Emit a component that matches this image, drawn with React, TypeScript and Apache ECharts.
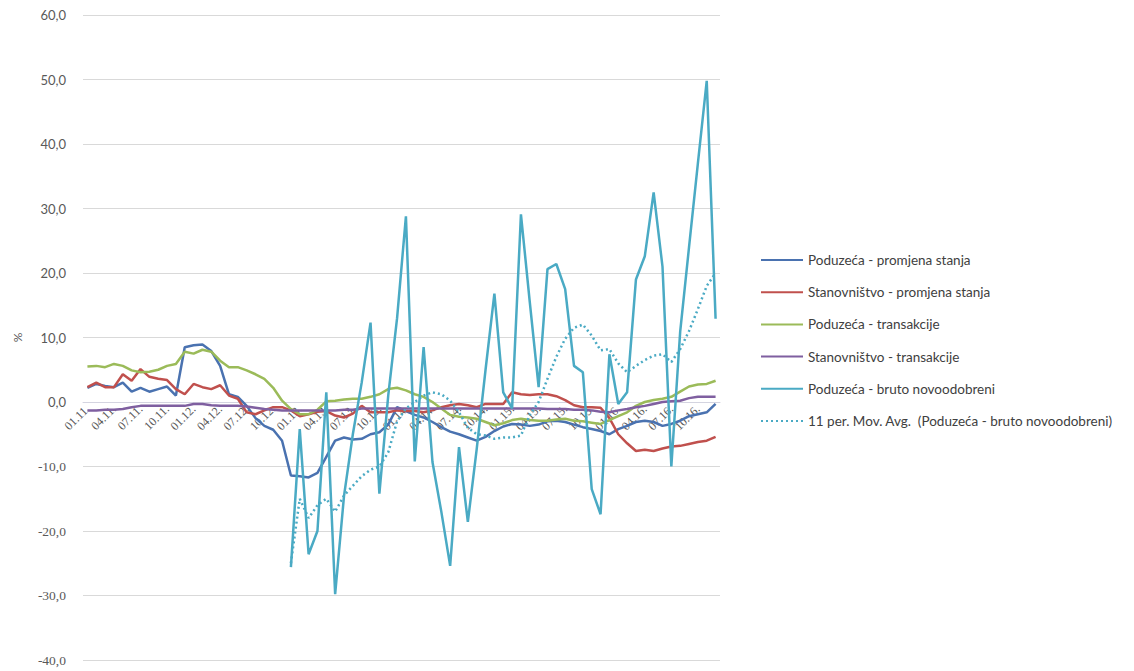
import React, { useEffect, useRef } from "react";
import * as echarts from "echarts";

const years = ["11", "12", "13", "14", "15", "16"];
const months = ["01", "02", "03", "04", "05", "06", "07", "08", "09", "10", "11", "12"];
const categories: string[] = [];
years.forEach((y) => months.forEach((m) => categories.push(`${m}.${y}.`)));

const seriesNames = [
  "Poduzeća - promjena stanja",
  "Stanovništvo - promjena stanja",
  "Poduzeća - transakcije",
  "Stanovništvo - transakcije",
  "Poduzeća - bruto novoodobreni",
  "11 per. Mov. Avg.  (Poduzeća - bruto novoodobreni)",
];

const poduzecaStanje = [
  2.2, 2.8, 2.5, 2.3, 3.0, 1.6, 2.2, 1.6, 2.0, 2.4, 1.0, 8.5,
  8.8, 8.9, 7.9, 5.6, 1.2, 0.8, -0.6, -2.5, -3.7, -4.3, -6.0, -11.4,
  -11.5, -11.7, -11.0, -8.5, -6.0, -5.5, -5.8, -5.7, -5.0, -4.7, -3.5, -0.8,
  -1.4, -2.0, -2.4, -3.1, -3.9, -4.6, -5.0, -5.5, -6.0, -5.4, -4.5, -3.8,
  -3.4, -3.5, -3.7, -3.5, -3.0, -2.9, -3.1, -3.5, -3.9, -4.2, -4.5, -5.0,
  -4.2, -3.7, -3.1, -2.9, -3.1, -3.7, -3.4, -2.9, -2.2, -1.9, -1.6, -0.3,
];

const stanovnistvoStanje = [
  2.3, 3.0, 2.3, 2.3, 4.3, 3.3, 5.1, 3.9, 3.6, 3.4, 2.0, 1.2,
  2.8, 2.3, 2.0, 2.6, 1.0, 0.5, -1.6, -1.9, -1.3, -0.8, -0.8, -1.3,
  -2.2, -1.9, -1.5, -1.4, -2.1, -2.4, -1.8, -0.6, -1.6, -1.6, -1.6, -1.3,
  -1.4, -1.4, -1.6, -1.3, -0.8, -0.5, -0.3, -0.5, -0.8, -0.3, -0.3, -0.3,
  1.5, 1.2, 1.1, 1.2, 1.2, 0.9, 0.3, -0.5, -0.8, -0.8, -0.9, -2.5,
  -5.0, -6.4, -7.6, -7.4, -7.6, -7.2, -6.9, -6.8, -6.5, -6.2, -6.0, -5.4,
];

const poduzecaTransakcije = [
  5.5, 5.6, 5.4, 5.9, 5.6, 4.9, 4.6, 4.7, 5.0, 5.6, 5.9, 7.8,
  7.5, 8.1, 7.8, 6.4, 5.4, 5.4, 4.9, 4.3, 3.6, 2.2, 0.2, -1.1,
  -1.9, -1.9, -1.2, 0.1, 0.2, 0.4, 0.5, 0.5, 0.8, 1.2, 2.0, 2.2,
  1.8, 1.2, 0.8, 0.0, -1.0, -2.0, -2.3, -2.4, -2.6, -3.1, -3.6, -3.3,
  -2.8, -2.6, -2.8, -2.9, -2.9, -2.7, -2.6, -2.9, -3.0, -3.2, -3.4, -2.8,
  -2.2, -1.6, -0.6, 0.0, 0.3, 0.5, 0.8, 1.6, 2.4, 2.7, 2.8, 3.3,
];

const stanovnistvoTransakcije = [
  -1.3, -1.3, -1.2, -1.2, -1.1, -0.8, -0.6, -0.6, -0.6, -0.6, -0.6, -0.6,
  -0.3, -0.3, -0.5, -0.6, -0.6, -0.6, -0.7, -0.9, -1.1, -1.2, -1.3, -1.3,
  -1.3, -1.3, -1.3, -1.3, -1.3, -1.2, -1.2, -1.0, -1.0, -1.0, -1.0, -1.0,
  -1.0, -1.0, -1.0, -1.0, -1.0, -1.0, -1.0, -1.0, -1.0, -1.0, -1.0, -1.0,
  -1.0, -1.0, -1.0, -1.0, -1.1, -1.1, -1.1, -1.2, -1.2, -1.3, -1.5, -1.6,
  -1.3, -1.1, -0.8, -0.6, -0.3, 0.0, 0.1, 0.2, 0.6, 0.8, 0.8, 0.8,
];

const bruto: (number | null)[] = [
  null, null, null, null, null, null, null, null, null, null, null, null,
  null, null, null, null, null, null, null, null, null, null, null, -25.6,
  -4.2, -23.6, -20.0, 1.5, -29.8, -14.6, -5.0, 3.0, 12.3, -14.2, 1.0, 13.0,
  28.8, -9.2, 8.5, -9.3, -17.0, -25.4, -7.0, -18.6, -7.3, 5.0, 16.8, 1.5,
  -1.0, 29.1, 15.5, 2.3, 20.6, 21.4, 17.5, 5.6, 4.6, -13.5, -17.4, 7.4,
  -0.3, 1.5, 19.0, 22.6, 32.5, 21.0, -10.0, 10.9, 24.0, 37.0, 49.8, 12.9,
];

const movAvg: (number | null)[] = [
  null, null, null, null, null, null, null, null, null, null, null, null,
  null, null, null, null, null, null, null, null, null, null, null, -25.0,
  -15.0, -18.0, -16.0, -15.0, -17.0, -14.5, -13.0, -11.5, -10.5, -10.0, -7.8, -3.0,
  -1.0, 0.0, 1.0, 1.5, 1.2, 0.2, -1.6, -4.0, -5.0, -5.2, -5.7, -5.5,
  -5.5, -5.2, -2.0, 0.0, 3.6, 7.0, 9.8, 11.5, 12.0, 10.3, 8.0, 8.2,
  6.0, 4.6, 5.6, 6.5, 7.2, 7.4, 6.2, 8.2, 11.0, 14.4, 18.0, 20.0,
];

const colors = ["#4a72b0", "#c0504d", "#9bbb59", "#7f5fa0", "#4aaac4", "#4aaac4"];

export default function App() {
  const ref = useRef<HTMLDivElement>(null);
  useEffect(() => {
    if (!ref.current) return;
    const chart = echarts.init(ref.current, undefined, { renderer: "svg" });
    const datasets = [
      poduzecaStanje,
      stanovnistvoStanje,
      poduzecaTransakcije,
      stanovnistvoTransakcije,
      bruto,
      movAvg,
    ];
    chart.setOption({
      animation: false,
      backgroundColor: "#ffffff",
      grid: {
        left: 83,
        right: 414,
        top: 15,
        bottom: 11,
        containLabel: false,
        outerBoundsMode: "none",
      },
      legend: {
        orient: "vertical",
        left: 755,
        top: 248,
        itemWidth: 42,
        itemHeight: 14,
        itemGap: 18.2,
        itemStyle: { opacity: 0 },
        textStyle: {
          fontFamily: "Lato",
          fontSize: 13.5,
          lineHeight: 14,
          color: "#404040",
        },
        data: seriesNames,
      },
      xAxis: {
        type: "category",
        data: categories,
        boundaryGap: true,
        position: "bottom",
        offset: -258,
        axisLine: { onZero: false, lineStyle: { color: "#d4d4e0", width: 1 } },
        axisTick: { show: false },
        axisLabel: {
          interval: 2,
          rotate: 45,
          margin: 5,
          fontFamily: "Liberation Serif",
          fontSize: 12,
          color: "#595959",
        },
        splitLine: { show: false },
      },
      yAxis: {
        type: "value",
        min: -40,
        max: 60,
        interval: 10,
        name: "%",
        nameLocation: "middle",
        nameGap: 60,
        nameRotate: 90,
        nameTextStyle: { fontFamily: "Lato", fontSize: 12, color: "#595959" },
        axisLine: { show: false },
        axisTick: { show: false },
        axisLabel: {
          margin: 17,
          formatter: (v: number) => {
            const s = v.toFixed(1).replace(".", ",");
            return v < 0 ? `{n|${s}}` : `{p|${s}}`;
          },
          rich: {
            p: { fontFamily: "Lato", fontSize: 13, color: "#595959" },
            n: { fontFamily: "Liberation Serif", fontSize: 13.5, color: "#595959" },
          },
        },
        splitLine: { lineStyle: { color: "#d9d9d9", width: 1 } },
      },
      series: datasets.map((d, i) => ({
        name: seriesNames[i],
        type: "line",
        data: d,
        symbol: "none",
        connectNulls: false,
        color: colors[i],
        lineStyle: {
          color: colors[i],
          width: 2.5,
          type: i === 5 ? [2, 3] : "solid",
        },
        z: 2 + i,
      })),
    });
    return () => chart.dispose();
  }, []);
  return (
    <div
      ref={ref}
      style={{ position: "fixed", left: 0, top: 0, width: 1134, height: 671, background: "#fff" }}
    />
  );
}
